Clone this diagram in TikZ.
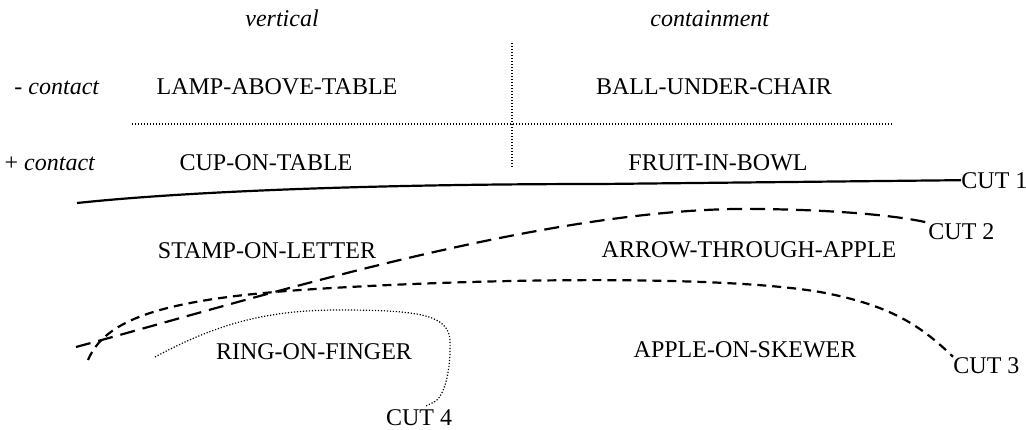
\documentclass[tikz,border=0pt]{standalone}
\usepackage{fontspec}
\setmainfont{Liberation Serif}
\begin{document}
\begin{tikzpicture}[x=0.5pt,y=-0.5pt,
  lbl/.style={inner sep=0pt, anchor=base, font=\fontsize{12}{14}\selectfont},
  cutlbl/.style={inner sep=0pt, anchor=base west, font=\fontsize{12}{14}\selectfont},
  gridline/.style={line width=0.6pt, dash pattern=on 0.6pt off 0.9pt},
  cutone/.style={line width=1.1pt},
  cuttwo/.style={line width=1.1pt, dash pattern=on 7.5pt off 4pt},
  cutthree/.style={line width=1.1pt, dash pattern=on 4.5pt off 3pt},
  cutfour/.style={line width=0.6pt, dash pattern=on 0.6pt off 0.9pt}]
\useasboundingbox (0,0) rectangle (1026,429);

% headers
\node[lbl] (vert) at (282,26) {\textit{vertical}};
\node[lbl] (cont) at (710,26) {\textit{containment}};
\node[lbl] (minus) at (57,94) {- \textit{contact}};
\node[lbl] (plus) at (50,170) {+ \textit{contact}};

% cells
\node[lbl] (lamp) at (277,94) {LAMP-ABOVE-TABLE};
\node[lbl] (ball) at (714,94) {BALL-UNDER-CHAIR};
\node[lbl] (cup) at (266,170) {CUP-ON-TABLE};
\node[lbl] (fruit) at (718,170) {FRUIT-IN-BOWL};
\node[lbl] (stamp) at (267,258) {STAMP-ON-LETTER};
\node[lbl] (arrow) at (749,257) {ARROW-THROUGH-APPLE};
\node[lbl] (ring) at (314,359) {RING-ON-FINGER};
\node[lbl] (apple) at (745,357) {APPLE-ON-SKEWER};

% cut labels
\node[cutlbl] (cut1) at (961,188) {CUT 1};
\node[cutlbl] (cut2) at (928,239) {CUT 2};
\node[cutlbl] (cut3) at (953,373) {CUT 3};
\node[lbl] (cut4) at (419,425) {CUT 4};

% grid
\coordinate (h1) at (132,124);
\coordinate (h2) at (892,124);
\coordinate (v1) at (512,43);
\coordinate (v2) at (512,168);
\draw[gridline] (h1) -- (h2);
\draw[gridline] (v1) -- (v2);

% cuts
\coordinate (c1s) at (77,203);
\coordinate (c2s) at (76,347);
\coordinate (c3s) at (88,360);
\coordinate (c4s) at (155,357);
\coordinate (c4e) at (426,406);

\draw[cutone] (c1s) .. controls (200,190) and (400,184) .. (600,184) -- (cut1.west);
\draw[cuttwo] (c2s) .. controls (250,300) and (550,205) .. (760,209)
  .. controls (840,210) and (900,216) .. (cut2.north west);
\draw[cutthree] (c3s) .. controls (105,320) and (160,300) .. (300,290)
  .. controls (480,278) and (720,275) .. (820,292)
  .. controls (890,305) and (920,325) .. (cut3.north west);
\draw[cutfour] (c4s) .. controls (220,322) and (270,310) .. (340,310)
  .. controls (420,310) and (448,315) .. (450,340)
  .. controls (451,370) and (445,393) .. (436,401) -- (c4e);
\end{tikzpicture}
\end{document}
